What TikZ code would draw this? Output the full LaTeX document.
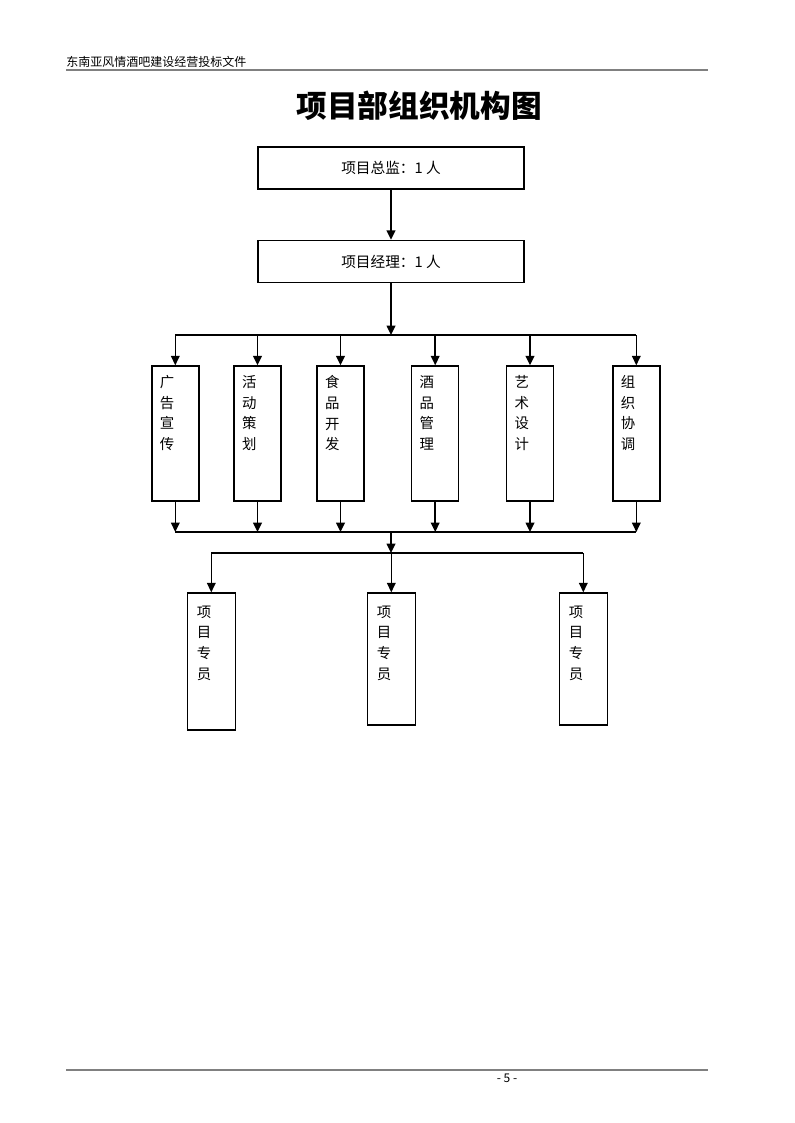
\documentclass[tikz,border=0pt]{standalone}
\usepackage{fontspec}
\setmainfont{Noto Sans CJK SC}
\usetikzlibrary{arrows.meta,positioning}

\tikzset{
  box/.style={draw, line width=1.1pt, inner sep=0pt},
  headbox/.style={box, minimum width=199.5pt, minimum height=31.5pt, font=\fontsize{11pt}{12pt}\selectfont},
  deptbox/.style={box, minimum width=35.25pt, minimum height=101.25pt},
  vtext/.style={anchor=north west, inner sep=0pt, align=left, font=\fontsize{10.8pt}{15.5pt}\selectfont},
  arr/.style={line width=1.1pt, -{Triangle[length=7pt,width=6.5pt]}},
  bus/.style={line width=1.1pt},
}

\begin{document}
\begin{tikzpicture}[x=0.75pt,y=-0.75pt]
\useasboundingbox (0,0) rectangle (794,1123);

\node (header) [anchor=base west, inner sep=0pt, font=\fontsize{9pt}{10pt}\selectfont] at (66,67) {东南亚风情酒吧建设经营投标文件};
\draw [gray, line width=0.8pt] (66,70) -- (708,70);
\node (title) [font=\fontsize{23pt}{26pt}\selectfont\bfseries] at (419,106) {项目部组织机构图};

\node (chief) [headbox] at (391,168) {项目总监：1 人};
\node (manager) [headbox] at (391,261.5) {项目经理：1 人};

\node (ad) [deptbox] at (175.3,433.5) {};
\node (event) [deptbox] at (257.5,433.5) {};
\node (food) [deptbox] at (340.5,433.5) {};
\node (wine) [deptbox] at (435.2,433.5) {};
\node (art) [deptbox] at (530,433.5) {};
\node (coord) [deptbox] at (636.3,433.5) {};

\node [vtext] at ([shift={(8.5,10)}]ad.north west) {广\\告\\宣\\传};
\node [vtext] at ([shift={(8.5,10)}]event.north west) {活\\动\\策\\划};
\node [vtext] at ([shift={(8.5,10)}]food.north west) {食\\品\\开\\发};
\node [vtext] at ([shift={(8.5,10)}]wine.north west) {酒\\品\\管\\理};
\node [vtext] at ([shift={(8.5,10)}]art.north west) {艺\\术\\设\\计};
\node [vtext] at ([shift={(8.5,10)}]coord.north west) {组\\织\\协\\调};

\node (staffa) [box, minimum width=36pt, minimum height=102.75pt] at (211.3,661.5) {};
\node (staffb) [box, minimum width=36pt, minimum height=99pt] at (391.3,659) {};
\node (staffc) [box, minimum width=36pt, minimum height=99pt] at (583.3,659) {};

\foreach \s in {staffa,staffb,staffc}
  \node [vtext] at ([shift={(10,13)}]\s.north west) {项\\目\\专\\员};

\coordinate (split) at (391,335);
\coordinate (merge) at (391,532);
\coordinate (fork) at (391,553);

\draw [arr] (chief) -- (manager);
\draw [arr] (manager) -- (split);
\draw [bus] (ad.north |- split) -- (coord.north |- split);
\foreach \d in {ad,event,food,wine,art,coord}
  \draw [arr] (\d.north |- split) -- (\d);
\foreach \d in {ad,event,food,wine,art,coord}
  \draw [arr] (\d) -- (\d.south |- merge);
\draw [bus] (ad.south |- merge) -- (coord.south |- merge);
\draw [arr] (merge) -- (fork);
\draw [bus] (staffa.north |- fork) -- (staffc.north |- fork);
\foreach \s in {staffa,staffb,staffc}
  \draw [arr] (\s.north |- fork) -- (\s);

\draw [gray, line width=1.5pt] (66,1070) -- (708,1070);
\node (page) [inner sep=0pt, font=\fontsize{9pt}{10pt}\selectfont] at (507,1078) {- 5 -};
\end{tikzpicture}
\end{document}
